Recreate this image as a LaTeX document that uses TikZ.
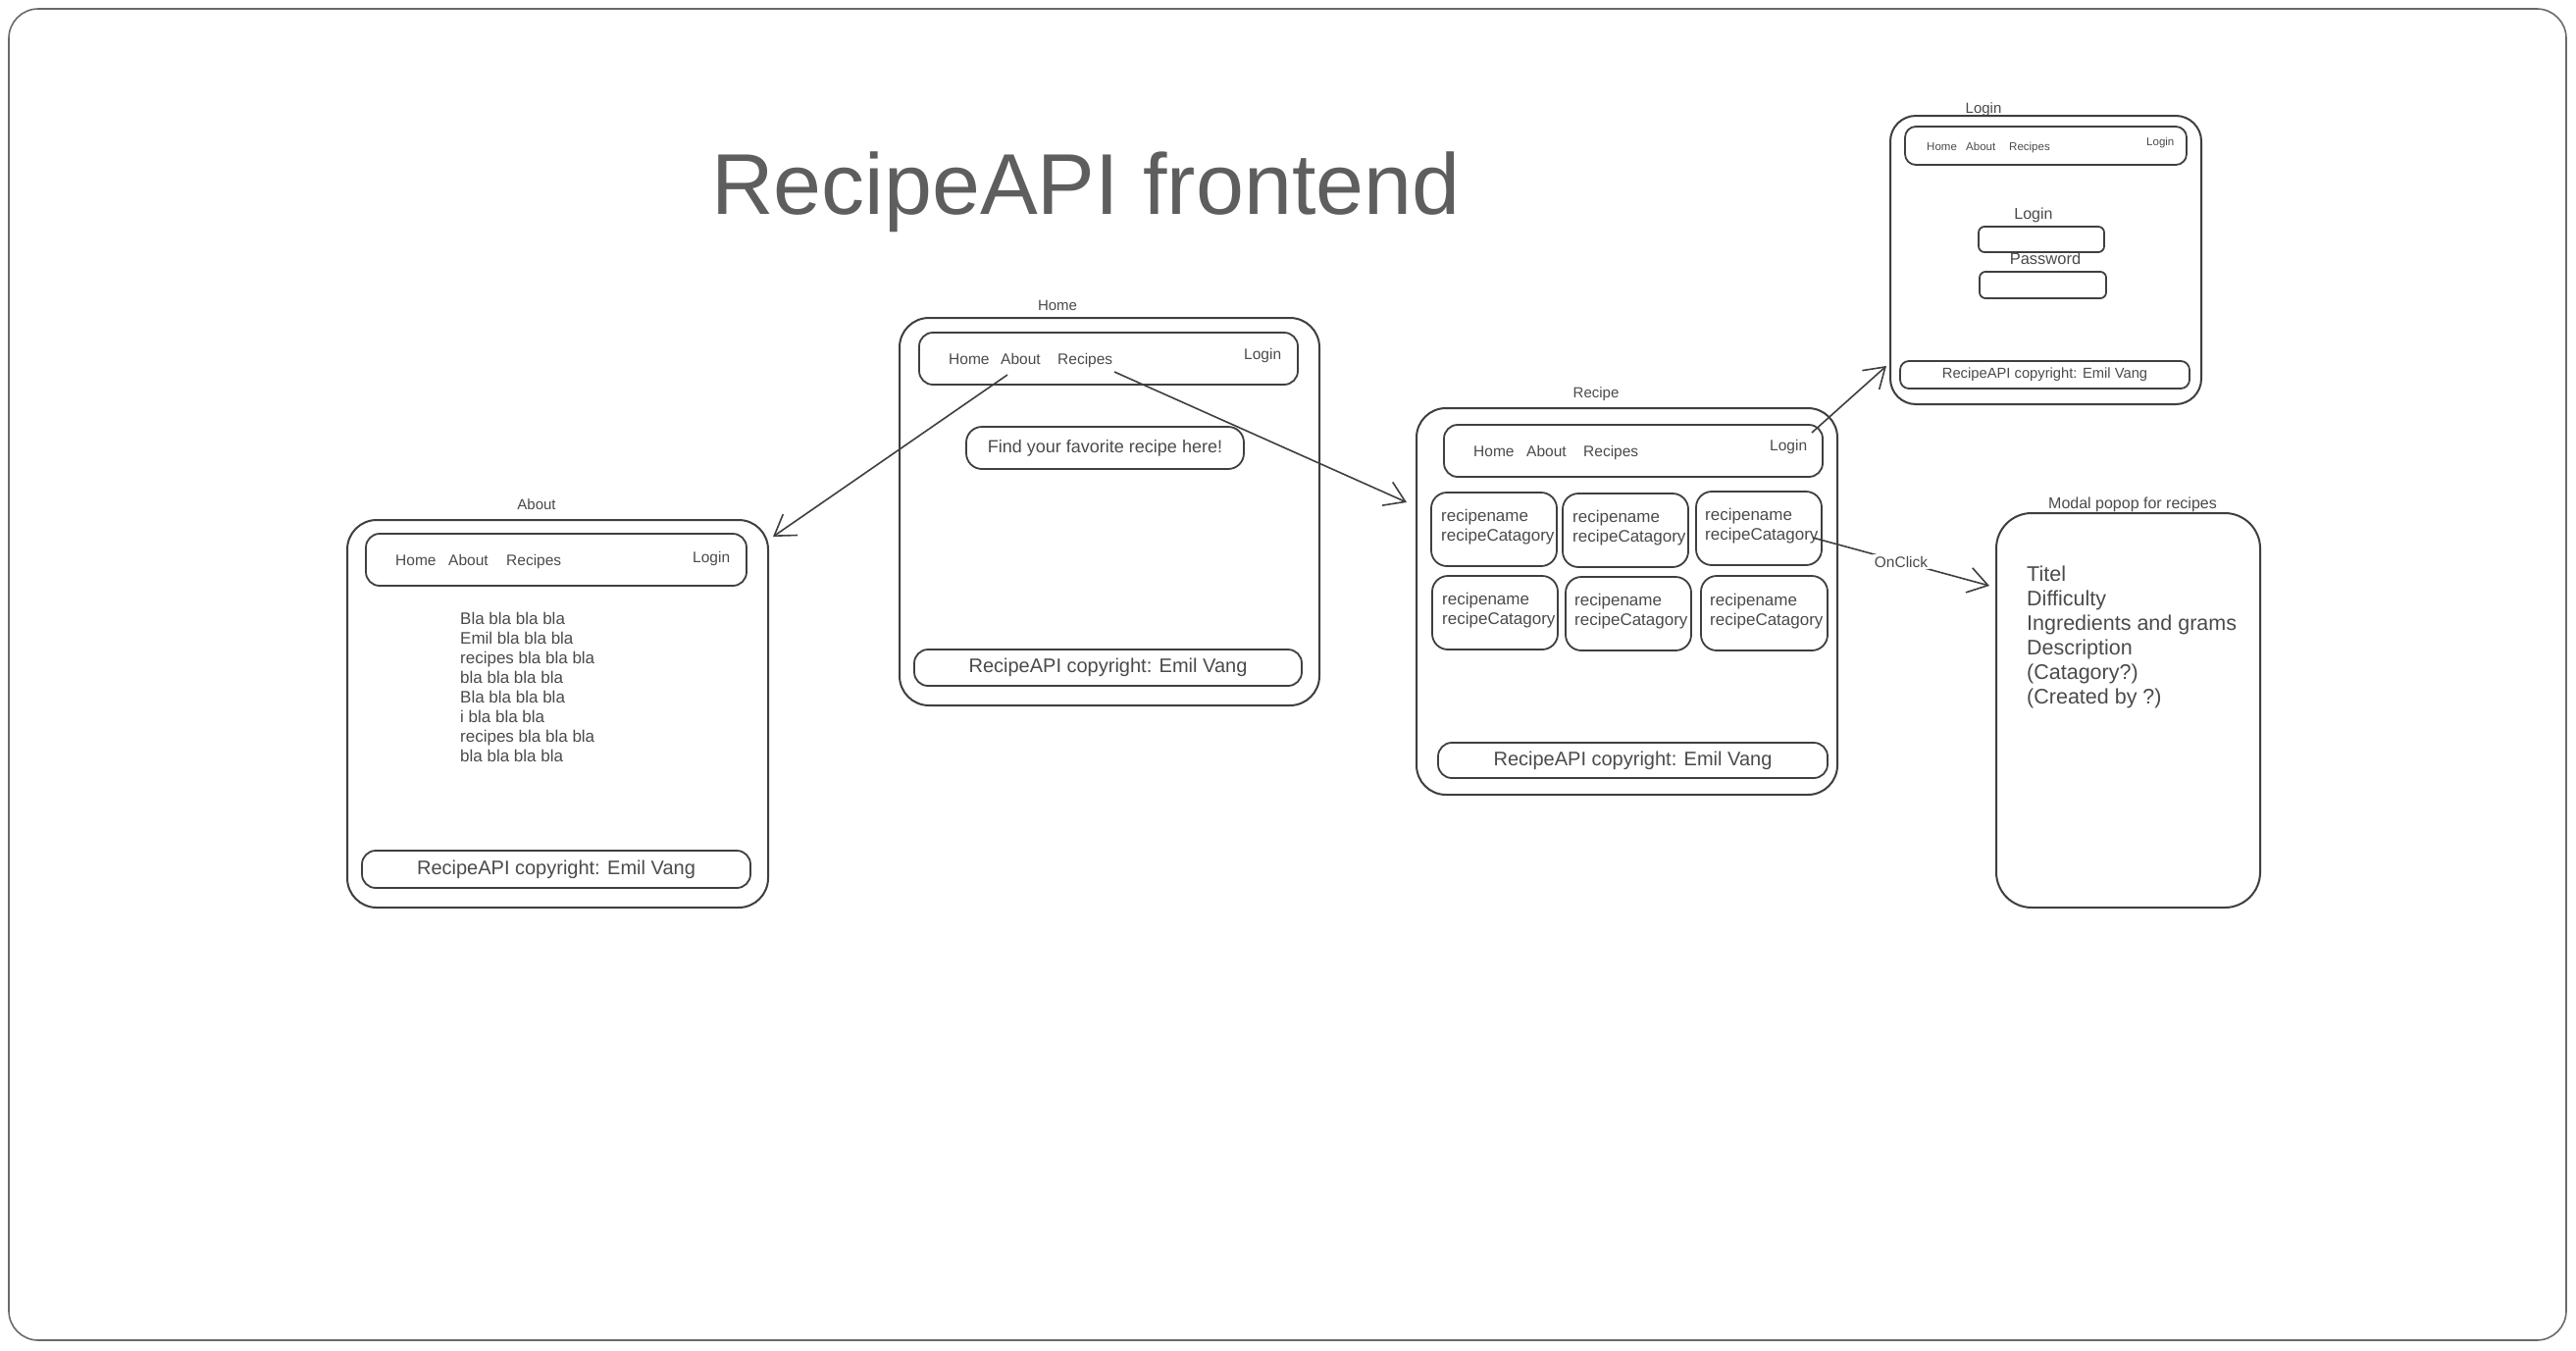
\documentclass[tikz,border=0pt]{standalone}
\usepackage{fontspec}
\setmainfont{Liberation Sans}
\usetikzlibrary{arrows.meta}
\definecolor{ink}{HTML}{3F3F3F}
\definecolor{txt}{HTML}{4A4A4A}
\definecolor{ttl}{HTML}{5E5E5E}
\definecolor{rim}{HTML}{6A6A6A}
\newcommand{\fsz}[2]{\fontsize{#1}{#2}\selectfont}
\tikzset{
  frame/.style={draw=ink, line width=2pt, rounded corners=30pt, inner sep=0pt},
  bar/.style={draw=ink, line width=1.8pt, rounded corners=14pt, inner sep=0pt},
  card/.style={draw=ink, line width=1.8pt, rounded corners=16pt, inner sep=0pt},
  field/.style={draw=ink, line width=1.8pt, rounded corners=6pt, inner sep=0pt},
  navtxt/.style={text=txt, inner sep=0pt, anchor=base west, font=\fsz{15.5}{18}},
  smalltxt/.style={text=txt, inner sep=0pt, anchor=base west, font=\fsz{11.5}{14}},
  lbl/.style={text=txt, inner sep=0pt, font=\fsz{15}{18}},
  foot/.style={text=txt, inner sep=0pt, font=\fsz{20}{24}},
  cardtxt/.style={text=txt, inner sep=0pt, anchor=west, align=left, font=\fsz{17}{20}},
  conn/.style={draw=ink, line width=1.6pt, -{Straight Barb[length=20pt,width=26pt,line width=1.6pt]}},
}
\begin{document}
\begin{tikzpicture}[x=1pt,y=-1pt]
\useasboundingbox (0,0) rectangle (2626,1376);
% outer canvas frame
\draw[draw=rim, line width=1.6pt, rounded corners=30pt] (9,9) rectangle (2616,1366);

% title
\node[text=ttl, inner sep=0pt, anchor=base, font=\fsz{88}{96}] (title) at (1107,218) {RecipeAPI frontend};

% ---------------- Home ----------------
\node[lbl] (homelbl) at (1078,311) {Home};
\node[frame, minimum width=428pt, minimum height=395pt] (home) at (1131,521.5) {};
\node[bar, minimum width=386pt, minimum height=53pt] (homenav) at (1130,365.5) {};
\node[navtxt] (homeHome) at (967,371) {Home};
\node[navtxt] (homeAbout) at (1020,371) {About};
\node[navtxt] (homeRecipes) at (1078,371) {Recipes};
\node[navtxt] (homeLogin) at (1268,366) {Login};
\node[card, minimum width=283pt, minimum height=43pt, text=txt, font=\fsz{18}{22}] (homefind) at (1126.5,456.5) {Find your favorite recipe here!};
\node[bar, minimum width=395pt, minimum height=37pt, text=txt, font=\fsz{20}{24}] (homefoot) at (1129.5,680.5) {RecipeAPI copyright: Emil Vang};

% ---------------- About ----------------
\node[lbl] (aboutlbl) at (547,514) {About};
\node[frame, minimum width=429pt, minimum height=395pt] (about) at (568.5,727.5) {};
\node[bar, minimum width=388pt, minimum height=53pt] (aboutnav) at (567,570.5) {};
\node[navtxt] (aboutHome) at (403,576) {Home};
\node[navtxt] (aboutAbout) at (457,576) {About};
\node[navtxt] (aboutRecipes) at (516,576) {Recipes};
\node[navtxt] (aboutLogin) at (706,573) {Login};
\node[cardtxt] (aboutbody) at (469,700) {Bla bla bla bla\\Emil bla bla bla\\recipes bla bla bla\\bla bla bla bla\\Bla bla bla bla\\i bla bla bla\\recipes bla bla bla\\bla bla bla bla};
\node[bar, minimum width=396pt, minimum height=38pt, text=txt, font=\fsz{20}{24}] (aboutfoot) at (567,886) {RecipeAPI copyright: Emil Vang};

% ---------------- Recipe ----------------
\node[lbl] (recipelbl) at (1627,402) {Recipe};
\node[frame, minimum width=429pt, minimum height=394pt] (recipe) at (1658.5,613) {};
\node[bar, minimum width=386pt, minimum height=53pt] (recipenav) at (1665,459.5) {};
\node[navtxt] (recipeHome) at (1502,465) {Home};
\node[navtxt] (recipeAbout) at (1556,465) {About};
\node[navtxt] (recipeRecipes) at (1614,465) {Recipes};
\node[navtxt] (recipeLogin) at (1804,459) {Login};
\node[card, minimum width=128pt, minimum height=75pt] (c1) at (1523,539.5) {};
\node[card, minimum width=128pt, minimum height=75pt] (c2) at (1657,540.5) {};
\node[card, minimum width=128pt, minimum height=75pt] (c3) at (1793,538.5) {};
\node[card, minimum width=128pt, minimum height=75pt] (c4) at (1524,624.5) {};
\node[card, minimum width=128pt, minimum height=75pt] (c5) at (1660,625.5) {};
\node[card, minimum width=129pt, minimum height=76pt] (c6) at (1798.5,625) {};
\node[cardtxt] (t1) at (1469,537) {recipename\\recipeCatagory};
\node[cardtxt] (t2) at (1603,538) {recipename\\recipeCatagory};
\node[cardtxt] (t3) at (1738,536) {recipename\\recipeCatagory};
\node[cardtxt] (t4) at (1470,622) {recipename\\recipeCatagory};
\node[cardtxt] (t5) at (1605,623) {recipename\\recipeCatagory};
\node[cardtxt] (t6) at (1743,623) {recipename\\recipeCatagory};
\node[bar, minimum width=397pt, minimum height=36pt, text=txt, font=\fsz{20}{24}] (recipefoot) at (1664.5,775) {RecipeAPI copyright: Emil Vang};

% ---------------- Login ----------------
\node[lbl] (loginlbl) at (2022,112) {Login};
\node[frame, rounded corners=26pt, minimum width=317pt, minimum height=294pt] (login) at (2085.5,265) {};
\node[bar, rounded corners=11pt, minimum width=287pt, minimum height=39pt] (loginnav) at (2085.5,148.5) {};
\node[smalltxt] (loginHome) at (1964,153) {Home};
\node[smalltxt] (loginAbout) at (2004,153) {About};
\node[smalltxt] (loginRecipes) at (2048,153) {Recipes};
\node[smalltxt] (loginLogin) at (2188,148) {Login};
\node[text=txt, inner sep=0pt, font=\fsz{16}{19}] (loginfieldlbl) at (2073,219) {Login};
\node[field, minimum width=128pt, minimum height=26pt] (field1) at (2081,244) {};
\node[text=txt, inner sep=0pt, font=\fsz{16.5}{19}] (pwlbl) at (2085,264) {Password};
\node[field, minimum width=129pt, minimum height=27pt] (field2) at (2082.5,290.5) {};
\node[bar, rounded corners=9pt, minimum width=295pt, minimum height=28pt, text=txt, font=\fsz{14.75}{18}] (loginfoot) at (2084.5,382) {RecipeAPI copyright: Emil Vang};

% ---------------- Modal ----------------
\node[lbl, font=\fsz{16}{19}] (modallbl) at (2174,514) {Modal popop for recipes};
\node[frame, rounded corners=36pt, minimum width=269pt, minimum height=402pt] (modal) at (2169.5,724) {};
\node[cardtxt, font=\fsz{21.5}{25}] (modaltxt) at (2066,649.5) {Titel\\Difficulty\\Ingredients and grams\\Description\\(Catagory?)\\(Created by ?)};

% ---------------- connectors ----------------
\coordinate (a1s) at (1027,382);
\coordinate (a1e) at (788,547);
\coordinate (a2s) at (1136,379);
\coordinate (a2e) at (1434,512);
\coordinate (a3s) at (1847,441);
\coordinate (a3e) at (1923,373);
\coordinate (a4s) at (1848,548);
\coordinate (a4e) at (2028,597);
\draw[conn] (a1s) -- (a1e);
\draw[conn] (a2s) -- (a2e);
\draw[conn] (a3s) -- (a3e);
\draw[conn] (a4s) -- node[pos=0.5, fill=white, inner sep=2pt, text=txt, font=\fsz{15.5}{18}] (onclick) {OnClick} (a4e);
\end{tikzpicture}
\end{document}
